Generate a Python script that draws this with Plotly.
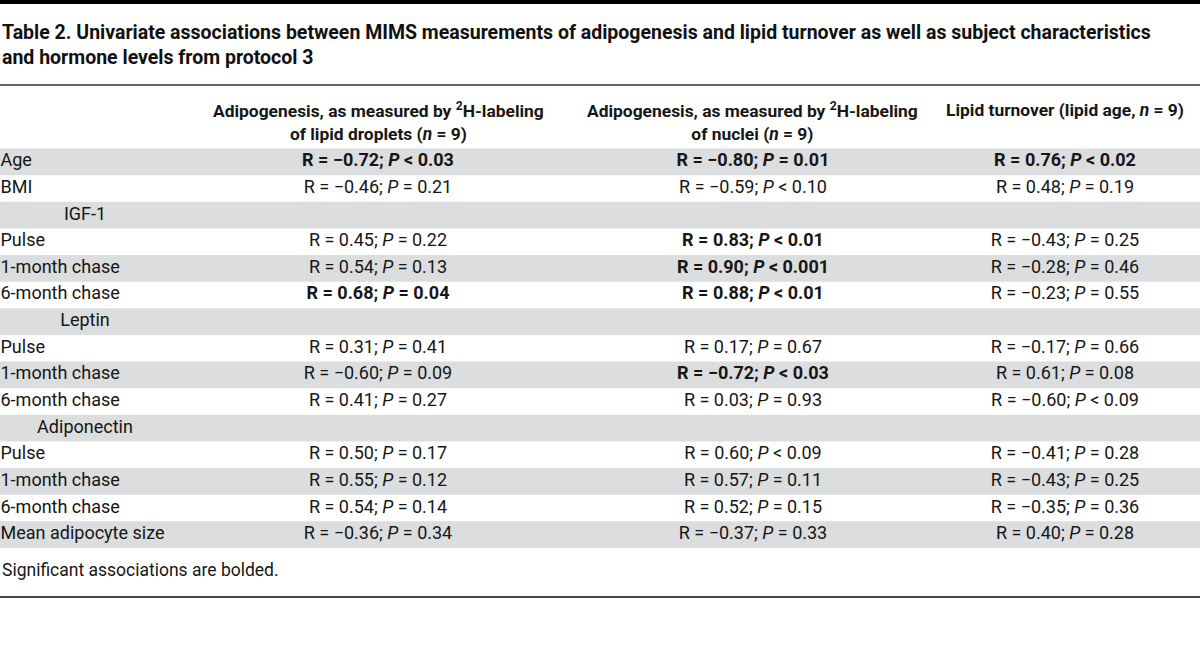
import plotly.graph_objects as go

FONT = "Roboto, Liberation Sans, sans-serif"
INK = "#161616"
STRIPE = "#dcdddf"

TITLE = ("Table 2. Univariate associations between MIMS measurements of adipogenesis and lipid turnover "
         "as well as subject characteristics<br>and hormone levels from protocol 3")
HEADERS = [
    "Adipogenesis, as measured by <sup>2</sup>H-labeling<br>of lipid droplets (<i>n</i> = 9)",
    "Adipogenesis, as measured by <sup>2</sup>H-labeling<br>of nuclei (<i>n</i> = 9)",
    "Lipid turnover (lipid age, <i>n</i> = 9)",
]
FOOTNOTE = "Significant associations are bolded."

ROW_LABELS = ["Age", "BMI", "IGF-1", "Pulse", "1-month chase", "6-month chase",
              "Leptin", "Pulse", "1-month chase", "6-month chase",
              "Adiponectin", "Pulse", "1-month chase", "6-month chase", "Mean adipocyte size"]
SUBHEAD_ROWS = [2, 6, 10]

# lipid droplets
R_DROP = [-0.72, -0.46, None, 0.45, 0.54, 0.68, None, 0.31, -0.60, 0.41, None, 0.50, 0.55, 0.54, -0.36]
OP_DROP = ["<", "=", None, "=", "=", "=", None, "=", "=", "=", None, "=", "=", "=", "="]
P_DROP = ["0.03", "0.21", None, "0.22", "0.13", "0.04", None, "0.41", "0.09", "0.27", None, "0.17", "0.12", "0.14", "0.34"]
SIG_DROP = [1, 0, 0, 0, 0, 1, 0, 0, 0, 0, 0, 0, 0, 0, 0]

# nuclei
R_NUC = [-0.80, -0.59, None, 0.83, 0.90, 0.88, None, 0.17, -0.72, 0.03, None, 0.60, 0.57, 0.52, -0.37]
OP_NUC = ["=", "<", None, "<", "<", "<", None, "=", "<", "=", None, "<", "=", "=", "="]
P_NUC = ["0.01", "0.10", None, "0.01", "0.001", "0.01", None, "0.67", "0.03", "0.93", None, "0.09", "0.11", "0.15", "0.33"]
SIG_NUC = [1, 0, 0, 1, 1, 1, 0, 0, 1, 0, 0, 0, 0, 0, 0]

# lipid age
R_AGE = [0.76, 0.48, None, -0.43, -0.28, -0.23, None, -0.17, 0.61, -0.60, None, -0.41, -0.43, -0.35, 0.40]
OP_AGE = ["<", "=", None, "=", "=", "=", None, "=", "=", "<", None, "=", "=", "=", "="]
P_AGE = ["0.02", "0.19", None, "0.25", "0.46", "0.55", None, "0.66", "0.08", "0.09", None, "0.28", "0.25", "0.36", "0.28"]
SIG_AGE = [1, 0, 0, 0, 0, 0, 0, 0, 0, 0, 0, 0, 0, 0, 0]

COLUMNS = [(R_DROP, OP_DROP, P_DROP, SIG_DROP),
           (R_NUC, OP_NUC, P_NUC, SIG_NUC),
           (R_AGE, OP_AGE, P_AGE, SIG_AGE)]
COL_X = [378, 753, 1065]

# page geometry (px)
W, H = 1200, 652
ROW_TOP, ROW_H = 148.5, 26.63
BODY = 18


def cell_text(r, op, p, sig):
    rs = ("\u2212" if r < 0 else "") + f"{abs(r):.2f}"
    s = f"R = {rs}; <i>P</i> {'&lt;' if op == '<' else '='} {p}"
    return f"<b>{s}</b>" if sig else s


def py(px):
    return 1 - px / H


rows = list(range(len(ROW_LABELS)))
fig = go.Figure()

# zebra stripes
gray_rows = [i for i in rows if i % 2 == 0]
fig.add_trace(go.Bar(
    y=gray_rows, x=[W] * len(gray_rows), base=0, orientation="h", width=1,
    marker=dict(color=STRIPE, line_width=0), hoverinfo="skip",
))

# row labels
plain = [i for i in rows if i not in SUBHEAD_ROWS]
fig.add_trace(go.Scatter(
    x=[0.5] * len(plain), y=plain, mode="text", cliponaxis=False,
    text=[ROW_LABELS[i] for i in plain], textposition="middle right",
    textfont=dict(family=FONT, size=BODY, color=INK), hoverinfo="skip",
))
fig.add_trace(go.Scatter(
    x=[85] * len(SUBHEAD_ROWS), y=SUBHEAD_ROWS, mode="text", cliponaxis=False,
    text=[ROW_LABELS[i] for i in SUBHEAD_ROWS], textposition="middle center",
    textfont=dict(family=FONT, size=BODY, color=INK), hoverinfo="skip",
))

for cx, (r, op, p, sig) in zip(COL_X, COLUMNS):
    keep = [i for i in rows if r[i] is not None]
    fig.add_trace(go.Scatter(
        x=[cx] * len(keep), y=keep, mode="text", cliponaxis=False,
        text=[cell_text(r[i], op[i], p[i], sig[i]) for i in keep], textposition="middle center",
        textfont=dict(family=FONT, size=BODY, color=INK), hoverinfo="skip",
    ))

annotations = [
    dict(x=0, y=py(45), xref="paper", yref="paper", xanchor="left", yanchor="middle",
         text=f"<b>{TITLE}</b>", align="left", showarrow=False,
         font=dict(family=FONT, size=19.5, color="#111")),
    dict(x=0, y=py(570), xref="paper", yref="paper", xanchor="left", yanchor="middle",
         text=FOOTNOTE, showarrow=False, font=dict(family=FONT, size=17.5, color=INK)),
]
for cx, h in zip(COL_X, HEADERS):
    n = h.count("<br>")
    annotations.append(dict(
        x=cx / W, y=py(110 + n * 11.5), xref="paper", yref="paper", xanchor="center",
        yanchor="middle", text=f"<b>{h}</b>", align="center", showarrow=False,
        font=dict(family=FONT, size=17.4, color=INK)))

shapes = [
    dict(type="rect", xref="paper", yref="paper", x0=0, x1=1, y0=py(4), y1=1,
         fillcolor="#000", line_width=0),
    dict(type="line", xref="paper", yref="paper", x0=0, x1=1, y0=py(85), y1=py(85),
         line=dict(color="#333", width=1.5)),
    dict(type="line", xref="paper", yref="paper", x0=0, x1=1, y0=py(597), y1=py(597),
         line=dict(color="#444", width=2)),
]

y_top = -ROW_TOP / ROW_H - 0.5
fig.update_layout(
    width=W, height=H, margin=dict(l=0, r=0, t=0, b=0),
    paper_bgcolor="white", plot_bgcolor="white", showlegend=False,
    xaxis=dict(range=[0, W], visible=False, fixedrange=True),
    yaxis=dict(range=[y_top + H / ROW_H, y_top], visible=False, fixedrange=True),
    annotations=annotations, shapes=shapes,
)

fig.write_html(
    "out.html",
    config={"displayModeBar": False},
    post_script="document.body.style.margin='0';document.body.style.overflow='hidden';",
)
